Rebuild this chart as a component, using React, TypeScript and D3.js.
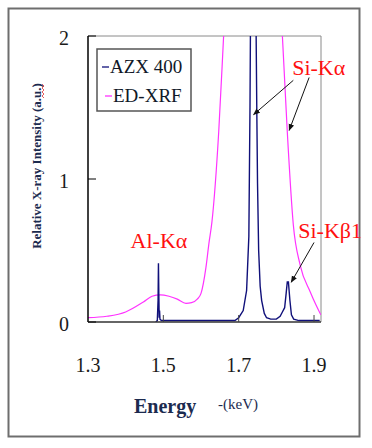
import React, { useEffect, useRef } from 'react';
import * as d3 from 'd3';

const width = 372;
const height = 448;
const plot = { left: 88, right: 321, top: 36, bottom: 322 };

const xTicks = [1.3, 1.5, 1.7, 1.9];
const yTicks = [0, 1, 2];

// AZX 400 (WDXRF) spectrum
const azxEnergy = [
  1.48, 1.484, 1.486, 1.487, 1.488, 1.489, 1.49, 1.491, 1.495, 1.55, 1.65,
  1.69, 1.7, 1.712, 1.721, 1.727, 1.73, 1.732, 1.736, 1.742, 1.745, 1.748,
  1.75, 1.753, 1.757, 1.761, 1.768, 1.774, 1.785, 1.8, 1.81, 1.816, 1.822,
  1.826, 1.829, 1.832, 1.836, 1.84, 1.846, 1.86, 1.915,
];
const azxIntensity = [
  0.0, 0.01, 0.15, 0.41, 0.2, 0.03, 0.08, 0.02, 0.01, 0.01, 0.01, 0.01,
  0.03, 0.08, 0.22, 0.6, 1.5, 2.4, 3.2, 3.2, 2.4, 1.5, 0.97, 0.5, 0.25,
  0.15, 0.06, 0.03, 0.02, 0.02, 0.04, 0.07, 0.1, 0.2, 0.28, 0.28, 0.15,
  0.05, 0.02, 0.01, 0.01,
];

// ED-XRF spectrum
const edEnergy = [
  1.3, 1.35, 1.4, 1.447, 1.47, 1.492, 1.515, 1.537, 1.56, 1.575, 1.59, 1.6,
  1.613, 1.621, 1.629, 1.647, 1.66, 1.69, 1.74, 1.79, 1.816, 1.829, 1.845,
  1.863, 1.89, 1.905, 1.918,
];
const edIntensity = [
  0.03, 0.04, 0.07, 0.14, 0.18, 0.19, 0.18, 0.16, 0.13, 0.135, 0.16, 0.2,
  0.38, 0.55, 0.7, 1.33, 2.0, 3.6, 4.4, 3.6, 2.0, 1.33, 0.68, 0.4, 0.21,
  0.12, 0.05,
];

const peakLabels = ['Si-Kα', 'Al-Kα', 'Si-Kβ1'];
const peakLabelE = [1.842, 1.413, 1.858];
const peakLabelI = [1.73, 0.52, 0.59];

// arrows: [fromE, fromI, toE, toI]
const arrowList = [
  [1.845, 1.69, 1.7395, 1.45],
  [1.887, 1.71, 1.834, 1.34],
  [1.9, 0.556, 1.8395, 0.278],
];

const legendNames = ['AZX 400', 'ED-XRF'];
const legendColors = ['#10107a', '#ff33ff'];

const serif = 'Liberation Serif';

export default function App() {
  const ref = useRef<SVGSVGElement>(null);

  useEffect(() => {
    if (!ref.current) return;
    const svg = d3.select(ref.current);
    svg.selectAll('*').remove();

    const x = d3.scaleLinear().domain([1.3, 1.9185]).range([plot.left, plot.right]);
    const y = d3.scaleLinear().domain([0, 2]).range([plot.bottom, plot.top]);

    svg.append('rect').attr('width', width).attr('height', height).attr('fill', 'white');

    // outer frame
    svg
      .append('rect')
      .attr('x', 8.5)
      .attr('y', 8.5)
      .attr('width', 351)
      .attr('height', 428)
      .attr('fill', 'none')
      .attr('stroke', '#6e6e6e')
      .attr('stroke-width', 2);

    const defs = svg.append('defs');
    defs
      .append('clipPath')
      .attr('id', 'plotClip')
      .append('rect')
      .attr('x', plot.left)
      .attr('y', plot.top)
      .attr('width', plot.right - plot.left)
      .attr('height', plot.bottom - plot.top);
    defs
      .append('marker')
      .attr('id', 'arrowHead')
      .attr('viewBox', '0 0 10 10')
      .attr('refX', 9)
      .attr('refY', 5)
      .attr('markerWidth', 7)
      .attr('markerHeight', 7)
      .attr('orient', 'auto')
      .append('path')
      .attr('d', 'M0,1 L10,5 L0,9 Z')
      .attr('fill', '#111');

    // plot border (top/right gray)
    svg
      .append('path')
      .attr('d', `M${plot.left},${plot.top}H${plot.right}V${plot.bottom}`)
      .attr('fill', 'none')
      .attr('stroke', '#8a8a8a')
      .attr('stroke-width', 1);

    const g = svg.append('g').attr('clip-path', 'url(#plotClip)');

    g.append('path')
      .attr(
        'd',
        d3
          .line<number>()
          .curve(d3.curveMonotoneX)
          .x((_, i) => x(edEnergy[i]))
          .y((d) => y(d))(edIntensity)
      )
      .attr('fill', 'none')
      .attr('stroke', '#ff33ff')
      .attr('stroke-width', 1.2);

    g.append('path')
      .attr(
        'd',
        d3
          .line<number>()
          .x((_, i) => x(azxEnergy[i]))
          .y((d) => y(d))(azxIntensity)
      )
      .attr('fill', 'none')
      .attr('stroke', '#10107a')
      .attr('stroke-width', 1.4);

    // axes
    svg
      .append('line')
      .attr('x1', plot.left)
      .attr('x2', plot.left)
      .attr('y1', plot.top)
      .attr('y2', plot.bottom)
      .attr('stroke', '#000')
      .attr('stroke-width', 1.5);
    svg
      .append('line')
      .attr('x1', plot.left)
      .attr('x2', plot.right)
      .attr('y1', plot.bottom)
      .attr('y2', plot.bottom)
      .attr('stroke', '#333')
      .attr('stroke-width', 1.5);

    svg
      .selectAll('.ytick')
      .data(yTicks)
      .enter()
      .append('line')
      .attr('x1', plot.left)
      .attr('x2', plot.left + 8)
      .attr('y1', (d) => y(d))
      .attr('y2', (d) => y(d))
      .attr('stroke', '#000');
    svg
      .selectAll('.ylab')
      .data(yTicks)
      .enter()
      .append('text')
      .attr('x', 69)
      .attr('y', (d) => y(d) + 9)
      .attr('text-anchor', 'end')
      .attr('font-family', serif)
      .attr('font-size', 20)
      .attr('fill', '#1a1a1a')
      .text((d) => d);

    svg
      .selectAll('.xtick')
      .data(xTicks.slice(1))
      .enter()
      .append('line')
      .attr('x1', (d) => x(d))
      .attr('x2', (d) => x(d))
      .attr('y1', plot.bottom)
      .attr('y2', plot.bottom - 7)
      .attr('stroke', '#444');
    svg
      .selectAll('.xlab')
      .data(xTicks)
      .enter()
      .append('text')
      .attr('x', (d) => x(d))
      .attr('y', 372)
      .attr('text-anchor', 'middle')
      .attr('font-family', serif)
      .attr('font-size', 20)
      .attr('fill', '#1a1a1a')
      .text((d) => d.toFixed(1));

    // axis titles
    const yTitle = svg.append('g').attr('transform', 'translate(36,166) rotate(-90)');
    yTitle
      .append('text')
      .attr('y', 4.5)
      .attr('text-anchor', 'middle')
      .attr('font-family', serif)
      .attr('font-weight', 'bold')
      .attr('font-size', 13)
      .attr('fill', '#1c2b4f')
      .text('Relative X-ray Intensity (a.u.)');
    yTitle
      .append('path')
      .attr(
        'd',
        d3
          .range(0, 8)
          .map((i) => `${i === 0 ? 'M' : 'L'}${68 + i * 2},${i % 2 ? 6 : 8}`)
          .join('')
      )
      .attr('fill', 'none')
      .attr('stroke', '#e03030')
      .attr('stroke-width', 0.8);

    svg
      .append('text')
      .attr('x', 134)
      .attr('y', 413)
      .attr('font-family', serif)
      .attr('font-weight', 'bold')
      .attr('font-size', 20)
      .attr('fill', '#1c2b4f')
      .text('Energy');
    svg
      .append('text')
      .attr('x', 218)
      .attr('y', 409)
      .attr('font-family', serif)
      .attr('font-size', 15)
      .attr('fill', '#1c2b4f')
      .text('-(keV)');

    // legend
    svg
      .append('rect')
      .attr('x', 97)
      .attr('y', 49)
      .attr('width', 94)
      .attr('height', 62)
      .attr('fill', 'white')
      .attr('stroke', '#555')
      .attr('stroke-width', 1.5);
    legendNames.forEach((name, i) => {
      const ly = 67 + i * 29;
      svg
        .append('line')
        .attr('x1', 102 + i * 3)
        .attr('x2', 109 + i * 3)
        .attr('y1', ly)
        .attr('y2', ly)
        .attr('stroke', legendColors[i])
        .attr('stroke-width', 1.3);
      svg
        .append('text')
        .attr('x', 110 + i * 3)
        .attr('y', ly + 6)
        .attr('font-family', serif)
        .attr('font-size', 19)
        .attr('fill', '#101828')
        .text(name);
    });

    // peak annotations
    svg
      .selectAll('.peak')
      .data(peakLabels)
      .enter()
      .append('text')
      .attr('x', (_, i) => x(peakLabelE[i]))
      .attr('y', (_, i) => y(peakLabelI[i]))
      .attr('font-family', serif)
      .attr('font-size', 22)
      .attr('fill', '#ff1010')
      .text((d) => d);

    svg
      .selectAll('.arrow')
      .data(arrowList)
      .enter()
      .append('line')
      .attr('x1', (d) => x(d[0]))
      .attr('y1', (d) => y(d[1]))
      .attr('x2', (d) => x(d[2]))
      .attr('y2', (d) => y(d[3]))
      .attr('stroke', '#111')
      .attr('stroke-width', 1)
      .attr('marker-end', 'url(#arrowHead)');
  }, []);

  return (
    <svg
      ref={ref}
      width={width}
      height={height}
      style={{ position: 'absolute', left: 0, top: 0 }}
    />
  );
}
